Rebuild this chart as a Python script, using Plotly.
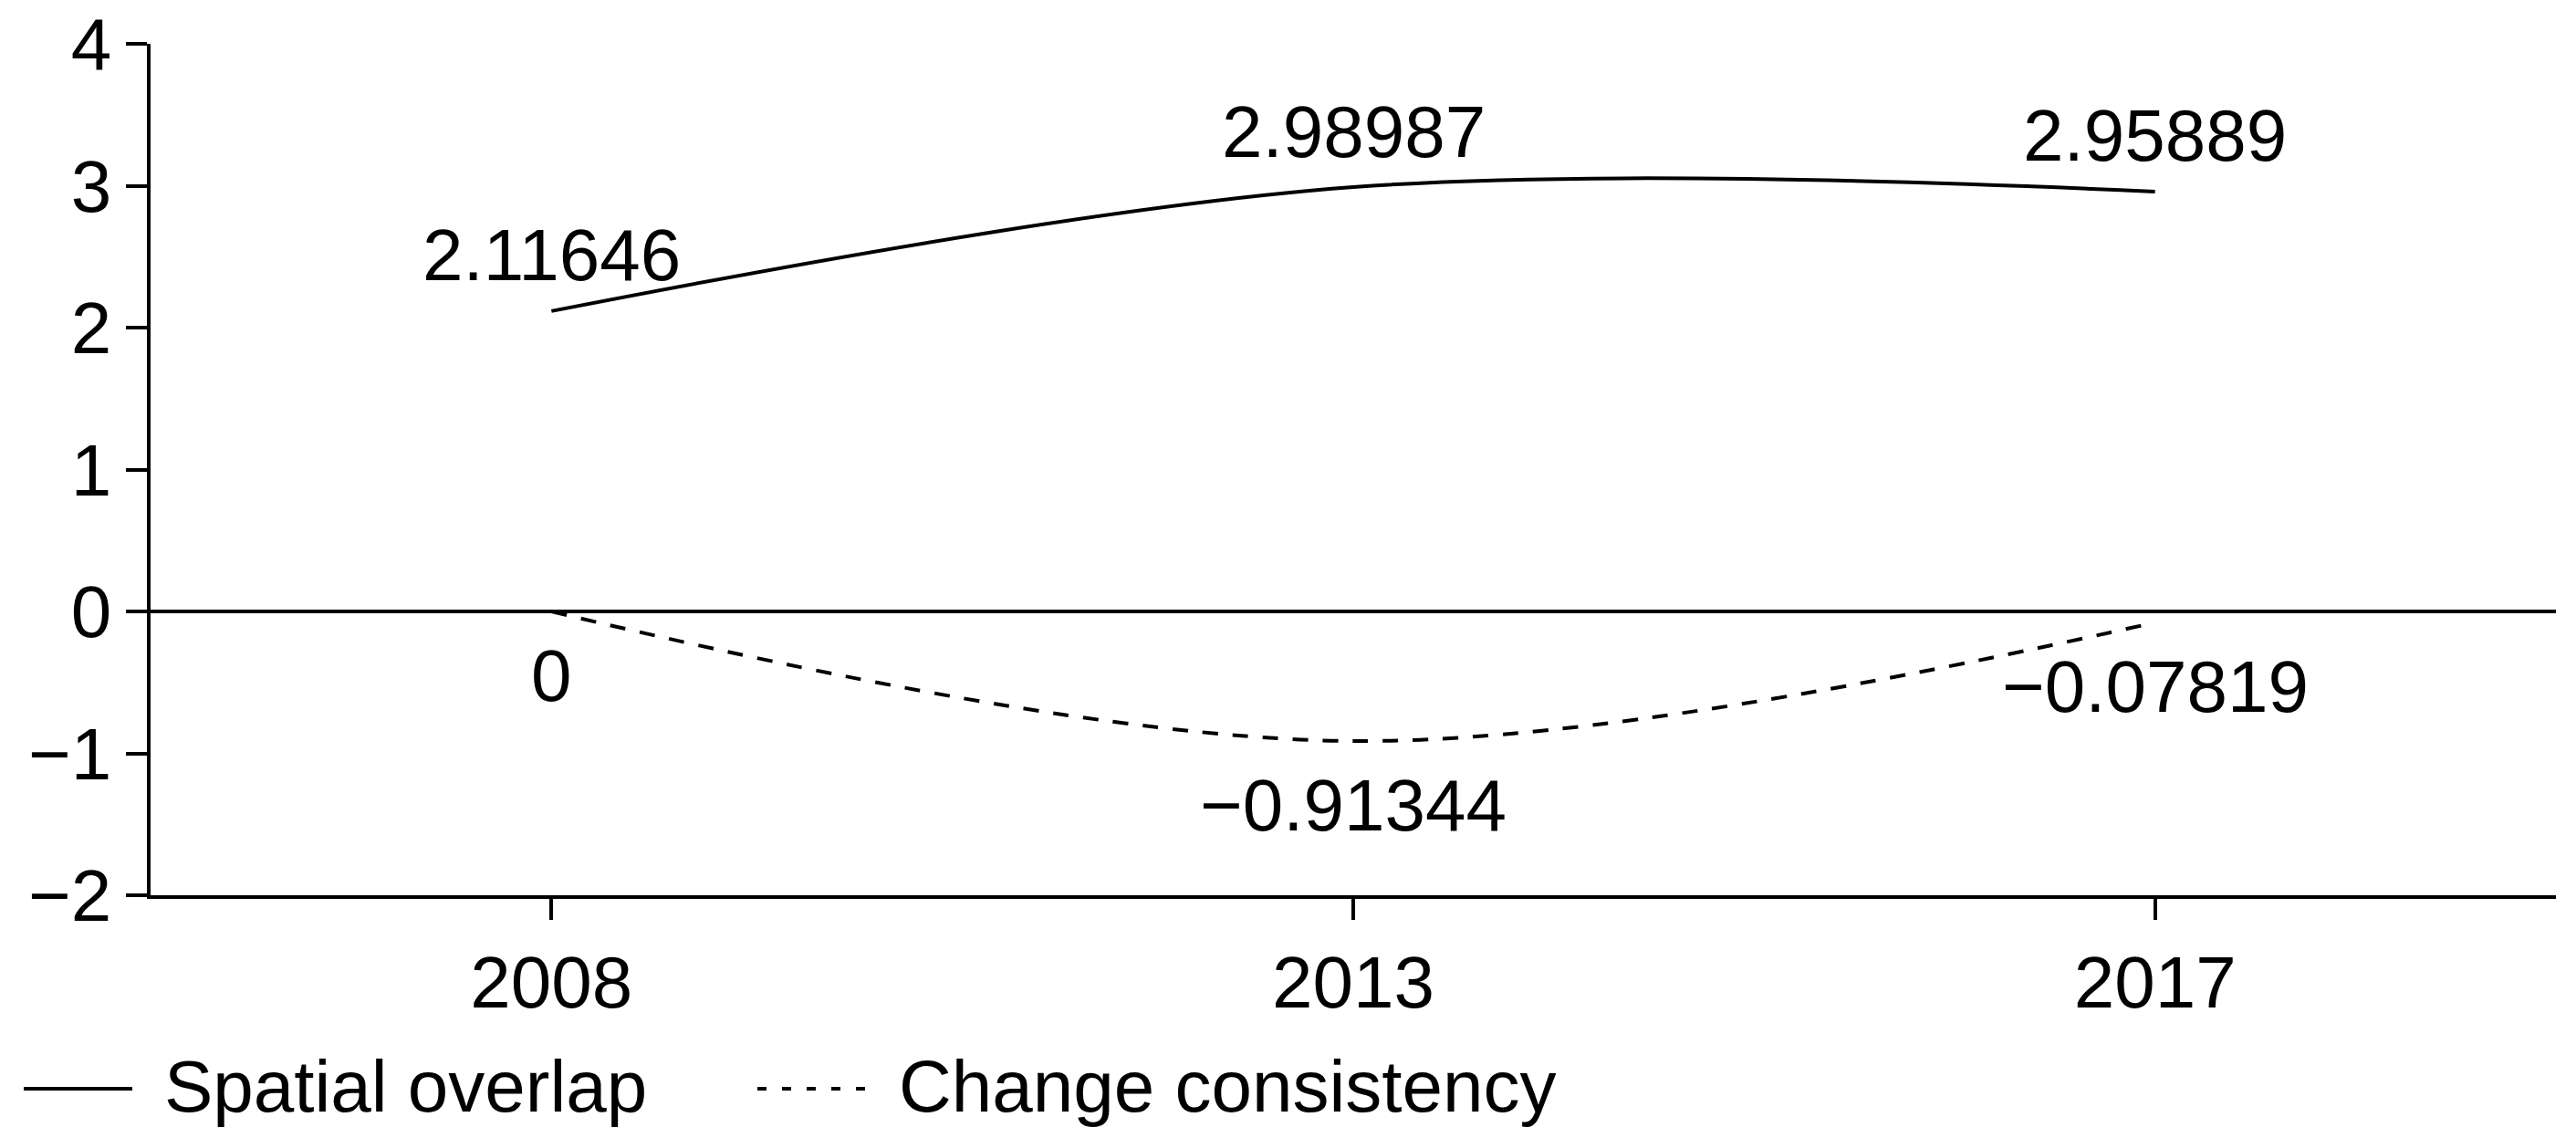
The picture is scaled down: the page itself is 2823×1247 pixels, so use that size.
import plotly.graph_objects as go

years = ["2008", "2013", "2017"]
spatial_overlap = [2.11646, 2.98987, 2.95889]
change_consistency = [0.0, -0.91344, -0.07819]
series_names = ["Spatial overlap", "Change consistency"]
y_ticks = [-2, -1, 0, 1, 2, 3, 4]

W, H = 2823, 1247
ML, MR, MT, MB = 165, 22, 48, 266
PW, PH = W - ML - MR, H - MT - MB
FONT = "Liberation Sans, Arial, Helvetica, sans-serif"
FS = 80


def px_x(p):
    return (p - ML) / PW


def px_y(p):
    return (H - MB - p) / PH


def fmt(v):
    s = f"{v:.5f}".rstrip("0").rstrip(".") if v != 0 else "0"
    return s.replace("-", "\u2212")


fig = go.Figure()
fig.add_trace(go.Scatter(
    x=years, y=spatial_overlap, mode="lines", name=series_names[0],
    line=dict(color="black", width=4, shape="spline", smoothing=1),
    showlegend=False))
fig.add_trace(go.Scatter(
    x=years, y=change_consistency, mode="lines", name=series_names[1],
    line=dict(color="black", width=4, shape="spline", smoothing=1, dash="17px,16px"),
    showlegend=False))

annotations = []
for i, v in enumerate(spatial_overlap):
    annotations.append(dict(x=i, y=v, xref="x", yref="y", text=fmt(v), showarrow=False,
                            yshift=61, font=dict(size=FS, color="black", family=FONT)))
for i, v in enumerate(change_consistency):
    annotations.append(dict(x=i, y=v, xref="x", yref="y", text=fmt(v), showarrow=False,
                            yshift=-70, font=dict(size=FS, color="black", family=FONT)))

# manual legend
leg_y = px_y(1190)
annotations.append(dict(x=px_x(178), y=leg_y, xref="paper", yref="paper", text=series_names[0],
                        showarrow=False, xanchor="left", yanchor="middle",
                        font=dict(size=FS, color="black", family=FONT)))
annotations.append(dict(x=px_x(983), y=leg_y, xref="paper", yref="paper", text=series_names[1],
                        showarrow=False, xanchor="left", yanchor="middle",
                        font=dict(size=FS, color="black", family=FONT)))
shapes = [
    dict(type="line", xref="paper", yref="paper", x0=px_x(26), x1=px_x(145), y0=px_y(1193), y1=px_y(1193),
         line=dict(color="black", width=4)),
    dict(type="line", xref="paper", yref="paper", x0=px_x(830), x1=px_x(950), y0=px_y(1193), y1=px_y(1193),
         line=dict(color="black", width=4, dash="10px,17px")),
]

fig.update_layout(
    width=W, height=H,
    margin=dict(l=ML, r=MR, t=MT, b=MB),
    paper_bgcolor="white", plot_bgcolor="white",
    font=dict(family=FONT, size=FS, color="black"),
    annotations=annotations, shapes=shapes,
    showlegend=False,
    xaxis=dict(type="category", range=[-0.5, 2.5], showline=True, linecolor="black", linewidth=3.5,
               ticks="outside", ticklen=23, tickwidth=3.5, tickcolor="black", automargin=False,
               showgrid=False, zeroline=False, tickfont=dict(size=FS, family=FONT)),
    yaxis=dict(range=[-2, 4], tickvals=y_ticks, showline=True, linecolor="black", linewidth=3.5,
               ticks="outside", ticklen=23, tickwidth=3.5, tickcolor="black", automargin=False,
               showgrid=False, zeroline=True, zerolinecolor="black", zerolinewidth=3.5,
               tickfont=dict(size=FS, family=FONT)),
)

fig.write_html("out.html", config={"displayModeBar": False},
               post_script="document.body.style.margin='0';")
